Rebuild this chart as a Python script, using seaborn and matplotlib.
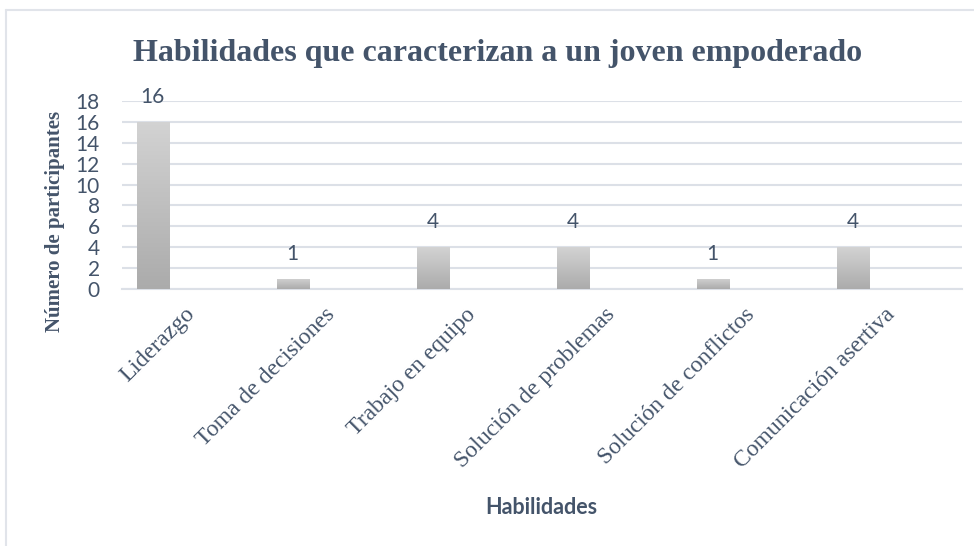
import numpy as np
import pandas as pd
import seaborn as sns
import matplotlib.pyplot as plt
import matplotlib.transforms as mtransforms
from matplotlib.lines import Line2D

habilidades = ['Liderazgo', 'Toma de decisiones', 'Trabajo en equipo',
               'Solución de problemas', 'Solución de conflictos', 'Comunicación asertiva']
participantes = [16, 1, 4, 4, 1, 4]
y_ticks = [0, 2, 4, 6, 8, 10, 12, 14, 16, 18]

df = pd.DataFrame({'Habilidades': habilidades, 'Participantes': participantes})

sns.set_theme(style='white')
txt_color = '#44546A'
grid_color = '#DCE0E7'

fig = plt.figure(figsize=(9.74, 5.46), dpi=100)
ax = fig.add_axes([122 / 974, 1 - 289 / 546, 840 / 974, 188 / 546])

sns.barplot(data=df, x='Habilidades', y='Participantes', ax=ax, width=0.23,
            color='#BFBFBF', saturation=1, zorder=3)

# Excel-like placement: bar sits at the left of its category slot, with gradient fill
grad = np.linspace(0, 1, 256).reshape(-1, 1)
cmap = sns.blend_palette(['#ABABAB', '#D3D3D3'], as_cmap=True)
for p in ax.patches:
    p.set_x(p.get_x() - 0.28)
    p.set_facecolor('none')
    p.set_edgecolor('none')
    x0, w, h = p.get_x(), p.get_width(), p.get_height()
    im = ax.imshow(grad, cmap=cmap, aspect='auto', origin='lower',
                   extent=(x0, x0 + w, 0, h), zorder=3)
    im.set_clip_path(p)
    ax.annotate(f'{int(h)}', (x0 + w / 2, h), xytext=(0, 18), textcoords='offset points',
                ha='center', va='center', fontsize=15, family='Lato', color=txt_color)

ax.set_xlim(-0.5, 5.5)
ax.set_ylim(0, 18)
ax.set_yticks(y_ticks)
ax.set_yticklabels([str(t) for t in y_ticks], fontsize=15, family='Lato', color=txt_color)
ax.set_xticks(range(len(habilidades)))
ax.set_xticklabels(habilidades, rotation=45, ha='right', va='center', rotation_mode='anchor',
                   fontsize=17, family='Liberation Serif', color=txt_color)
shift = mtransforms.ScaledTranslation(6 / 100, 0, fig.dpi_scale_trans)
for lab in ax.get_xticklabels():
    lab.set_transform(lab.get_transform() + shift)
ax.tick_params(axis='x', length=0, pad=16)
ax.tick_params(axis='y', length=0, pad=16)
ax.yaxis.grid(True, color=grid_color, linewidth=1.5, zorder=0)
ax.set_axisbelow(True)
for s in ['top', 'right', 'left']:
    ax.spines[s].set_visible(False)
ax.spines['bottom'].set_color(grid_color)
ax.spines['bottom'].set_linewidth(1.5)
ax.set_xlabel('')
ax.set_ylabel('Número de participantes', fontsize=15, family='Liberation Serif',
              fontweight='bold', color=txt_color)
ax.yaxis.set_label_coords(-0.068, 0.36)

fig.text(498 / 974, 1 - 54 / 546, 'Habilidades que caracterizan a un joven empoderado',
         ha='center', va='center', fontsize=23, family='Liberation Serif',
         fontweight='bold', color=txt_color)
fig.text(541 / 974, 1 - 507 / 546, 'Habilidades', ha='center', va='center',
         fontsize=15.5, family='Lato', fontweight='bold', color=txt_color)

# chart border (only top and left edges are visible in the crop)
fig.add_artist(Line2D([6 / 974, 6 / 974], [0, 1 - 10 / 546], transform=fig.transFigure,
                      color='#E1E4EA', linewidth=1.5))
fig.add_artist(Line2D([6 / 974, 1], [1 - 10 / 546, 1 - 10 / 546], transform=fig.transFigure,
                      color='#E1E4EA', linewidth=1.5))

fig.savefig('out.png', dpi=100)
